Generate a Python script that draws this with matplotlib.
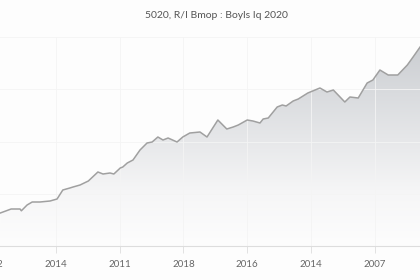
import numpy as np
import matplotlib
matplotlib.use("Agg")
import matplotlib.pyplot as plt
from matplotlib.colors import LinearSegmentedColormap

# ── Data ─────────────────────────────────────────────────────────────
tick_pos = [0, 1, 2, 3, 4, 5, 6]
tick_labels = ["2012", "2014", "2011", "2018", "2016", "2014", "2007"]

t = [0.13, 0.30, 0.44, 0.46, 0.55, 0.63, 0.75, 0.91, 1.02, 1.11, 1.22, 1.27,
     1.38, 1.51, 1.66, 1.74, 1.85, 1.91, 2.01, 2.05, 2.12, 2.21, 2.32, 2.43,
     2.51, 2.60, 2.68, 2.76, 2.90, 2.99, 3.10, 3.26, 3.37, 3.54, 3.68, 3.78,
     3.86, 4.00, 4.09, 4.20, 4.25, 4.33, 4.47, 4.55, 4.61, 4.72, 4.80, 4.95,
     5.14, 5.25, 5.35, 5.53, 5.61, 5.74, 5.88, 5.97, 6.08, 6.21, 6.36, 6.51,
     6.60, 6.71]
value = [16.5, 18.5, 18.5, 17.6, 20.5, 22.0, 22.0, 22.5, 23.5, 28.0, 29.0, 29.5,
         30.5, 32.5, 37.0, 36.0, 36.5, 36.0, 39.0, 39.5, 41.5, 43.0, 48.0, 51.5,
         52.0, 54.5, 53.0, 54.0, 52.0, 54.5, 56.5, 57.0, 54.5, 63.0, 58.5, 59.5,
         60.5, 63.0, 62.5, 61.5, 63.5, 64.0, 69.5, 70.5, 70.0, 72.5, 73.5, 76.5,
         79.0, 77.0, 78.0, 72.0, 74.5, 74.0, 81.5, 83.0, 88.0, 85.5, 85.5, 90.5,
         94.5, 99.5]

TITLE = "5020, R/I Bmop : Boyls Iq 2020"

# ── Figure ───────────────────────────────────────────────────────────
W, H = 420, 280
fig = plt.figure(figsize=(W / 100, H / 100), dpi=100)
fig.patch.set_facecolor("#fdfdfd")

# axes box in pixels: left -8, right 420, top 37, bottom 246
ax = fig.add_axes([-8 / W, (H - 246) / H, 428 / W, (246 - 37) / H])
ax.set_facecolor("#fdfdfd")
ax.set_xlim(0, 428 / 63.8)
ax.set_ylim(0, 104.5)

# gradient fill under the line
grad = LinearSegmentedColormap.from_list(
    "g", [(0.0, "#fdfdfd"), (0.25, "#f6f6f7"), (1.0, "#c9ccd0")])
img = ax.imshow(np.linspace(0, 1, 256).reshape(-1, 1), cmap=grad,
                extent=[0, 428 / 63.8, 0, 104.5], origin="lower",
                aspect="auto", zorder=1)
poly = ax.fill_between(t, value, 0, color="none", zorder=1)
img.set_clip_path(poly.get_paths()[0], transform=ax.transData)

ax.plot(t, value, color="#a0a0a0", linewidth=1.1, zorder=3)

# grid + axis
ax.set_yticks(np.linspace(0, 104.5, 5))
ax.set_xticks(tick_pos)
ax.set_xticklabels(tick_labels, fontsize=7, color="#666666", family="Lato")
ax.tick_params(axis="x", length=5, width=0.6, color="#dddddd", pad=5)
ax.tick_params(axis="y", length=0, labelleft=False)
ax.grid(color="#f4f4f4", linewidth=0.6, zorder=0)
for s in ["top", "left", "right"]:
    ax.spines[s].set_visible(False)
ax.spines["bottom"].set_color("#dddddd")
ax.spines["bottom"].set_linewidth(0.8)
ax.spines["bottom"].set_zorder(4)

fig.text(216 / W, 1 - 16 / H, TITLE, ha="center", va="center",
         fontsize=7.5, color="#555555", family="Lato")

fig.savefig("out.png", dpi=100, facecolor=fig.get_facecolor())
